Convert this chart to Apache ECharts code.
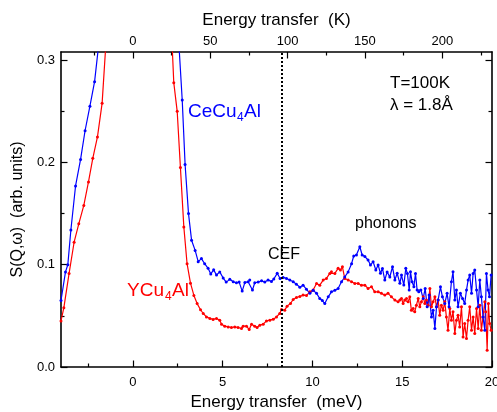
<!DOCTYPE html>
<html lang="en">
<head>
<meta charset="UTF-8">
<title>CeCu4Al / YCu4Al S(Q,w)</title>
<script src="https://cdn.jsdelivr.net/npm/echarts@6/dist/echarts.min.js"></script>
<style>
    body { margin: 0; padding: 0; background: #fff; }
    #chart { width: 497px; height: 412px; }
</style>
</head>
<body>
<div id="chart"></div>
<script>
    // CeCu4Al (blue) - energy transfer (meV) and S(Q,w)
    const ceE = [-4.0, -3.75, -3.62, -3.45, -3.19, -2.91, -2.66, -2.39, -2.13, -1.87, 0.0, 2.55,
        2.75, 2.91, 3.10, 3.27, 3.47, 3.64, 3.82, 4.0, 4.19, 4.34, 4.5, 4.66, 4.84, 5.03, 5.2,
        5.4, 5.59, 5.77, 5.92, 6.09, 6.24, 6.42, 6.51, 6.66, 6.79, 6.98, 7.17, 7.35, 7.53, 7.72,
        7.85, 8.04, 8.2, 8.37, 8.56, 8.74, 8.93, 9.11, 9.30, 9.48, 9.67, 9.86, 10.04, 10.23,
        10.41, 10.55, 10.69, 10.88, 11.06, 11.25, 11.43, 11.62, 11.8, 11.99, 12.18, 12.3, 12.45,
        12.64, 12.77, 12.92, 13.1, 13.23, 13.38, 13.53, 13.66, 13.79, 13.9, 14.03, 14.16, 14.31,
        14.46, 14.59, 14.72,
        14.87, 14.96, 15.09, 15.2, 15.29, 15.39, 15.46, 15.55, 15.65, 15.74, 15.83, 15.92, 16.04,
        16.17, 16.28, 16.39, 16.5, 16.63, 16.72, 16.82, 16.91, 17.0, 17.13, 17.24, 17.37, 17.5,
        17.61, 17.74, 17.83, 17.93, 18.02, 18.11, 18.24, 18.36, 18.48, 18.58, 18.67, 18.76, 18.86,
        18.95, 19.04, 19.14, 19.23, 19.32, 19.41, 19.5, 19.6, 19.69, 19.78, 19.86, 19.95];
    const ceS = [0.065, 0.093, 0.100, 0.134, 0.177, 0.203, 0.231, 0.255, 0.279, 0.32, 2.5, 0.32,
        0.261, 0.198, 0.150, 0.124, 0.114, 0.103, 0.106, 0.101, 0.0965, 0.091, 0.095, 0.090, 0.093, 0.087, 0.083,
        0.0857, 0.0833, 0.0824, 0.083, 0.0742, 0.0827, 0.0833, 0.085, 0.0752, 0.0824, 0.083, 0.0843, 0.083, 0.085, 0.0837,
        0.086, 0.0916, 0.0866, 0.0876, 0.0866, 0.085, 0.0833, 0.081, 0.078, 0.080, 0.076, 0.072, 0.075, 0.072,
        0.067, 0.065, 0.062, 0.0686, 0.0735, 0.075, 0.0768, 0.0833, 0.088, 0.093, 0.101, 0.1085, 0.1095,
        0.1176, 0.1095, 0.108, 0.1046, 0.0997, 0.103, 0.0948, 0.0997, 0.0916, 0.0964, 0.085, 0.093, 0.088,
        0.098, 0.085, 0.0916,
        0.0818, 0.0899, 0.0801, 0.0965, 0.0915, 0.0752, 0.0931, 0.0833, 0.0784, 0.0915, 0.0752, 0.0735, 0.0752,
        0.067, 0.0768, 0.0588, 0.0703, 0.049, 0.0556, 0.0376, 0.0588, 0.0654, 0.0784, 0.0686, 0.0621, 0.072,
        0.0588, 0.0833, 0.0931, 0.0654, 0.0752, 0.0588, 0.072, 0.067, 0.0621, 0.0752, 0.085, 0.0899, 0.072,
        0.0915, 0.0948, 0.0752, 0.0588, 0.085, 0.0686, 0.049, 0.036, 0.0915, 0.0752, 0.0686, 0.0899];

    // YCu4Al (red)
    const yE = [-4.0, -3.84, -3.55, -3.27, -3.01, -2.73, -2.47, -2.23, -1.97, -1.71, -1.45, 0.0, 2.15,
        2.28, 2.47, 2.65, 2.84, 3.02, 3.21, 3.40, 3.58, 3.77, 3.92, 4.10, 4.29, 4.47, 4.66, 4.84,
        4.94, 5.12, 5.31, 5.49, 5.68, 5.86, 6.05, 6.14, 6.33, 6.48, 6.61, 6.79, 6.92, 7.07, 7.26,
        7.44, 7.63, 7.82, 8.0, 8.18, 8.28, 8.46, 8.59, 8.78, 8.93, 9.11, 9.30, 9.48, 9.67, 9.86,
        10.04, 10.23, 10.41, 10.6, 10.78, 10.97, 11.06, 11.25, 11.43, 11.56, 11.67, 11.8, 11.99,
        12.18, 12.36, 12.55, 12.73, 12.92, 13.1, 13.29, 13.47, 13.66, 13.84, 14.03, 14.21, 14.4,
        14.59, 14.77,
        14.87, 14.96, 15.05, 15.14, 15.24, 15.33, 15.42, 15.51, 15.61, 15.7, 15.79, 15.89, 15.98,
        16.07, 16.17, 16.26, 16.35, 16.44, 16.54, 16.63, 16.72, 16.82, 16.91, 17.0, 17.09, 17.18,
        17.28, 17.37, 17.46, 17.55, 17.65, 17.74, 17.83, 17.93, 18.02, 18.11, 18.2, 18.3, 18.39,
        18.48, 18.58, 18.67, 18.76, 18.86, 18.95, 19.04, 19.14, 19.23, 19.32, 19.41, 19.5, 19.6,
        19.65, 19.73, 19.8, 19.87, 19.95];
    const yS = [0.045, 0.058, 0.0915, 0.122, 0.140, 0.158, 0.181, 0.204, 0.225, 0.258, 0.33, 2.5, 0.33,
        0.278, 0.25, 0.195, 0.137, 0.101, 0.082, 0.070, 0.062, 0.056, 0.0523, 0.049, 0.0475, 0.0465, 0.0475, 0.0458,
        0.0419, 0.0399, 0.0392, 0.0386, 0.0392, 0.0386, 0.0376, 0.0399, 0.0399, 0.0366, 0.0419, 0.0399, 0.0386, 0.0409, 0.0419,
        0.0451, 0.0458, 0.0468, 0.049, 0.0523, 0.0562, 0.0556, 0.0595, 0.0621, 0.0661, 0.068, 0.069, 0.0703, 0.070, 0.0735,
        0.0752, 0.0817, 0.080, 0.085, 0.0866, 0.0915, 0.0931, 0.0915, 0.0965, 0.0948, 0.098, 0.0866, 0.085,
        0.0833, 0.0817, 0.0817, 0.080, 0.080, 0.0768, 0.0784, 0.0735, 0.0735, 0.072, 0.0703, 0.072, 0.0686,
        0.0654, 0.0637,
        0.0654, 0.067, 0.0621, 0.0654, 0.067, 0.0637, 0.0686, 0.0556, 0.0572, 0.054, 0.0605, 0.067, 0.0588,
        0.0637, 0.0686, 0.0621, 0.0654, 0.0605, 0.0768, 0.0588, 0.0637, 0.0686, 0.0588, 0.0654, 0.0507, 0.0605,
        0.0556, 0.0637, 0.049, 0.036, 0.0572, 0.0458, 0.054, 0.0327, 0.0458, 0.0507, 0.0392, 0.0588, 0.0294,
        0.0425, 0.0278, 0.0458, 0.0588, 0.036, 0.049, 0.0327, 0.0572, 0.0376, 0.0605, 0.036, 0.049, 0.0637,
        0.054, 0.0164, 0.0621, 0.0425, 0.036];

    // tick positions
    const meVMajor = [0, 5, 10, 15, 20];
    const meVMinor = [-2.5, 2.5, 7.5, 12.5, 17.5];
    const kMajor = [0, 50, 100, 150, 200];
    const kMinor = [-25, 25, 75, 125, 175, 225];
    const yMajor = [0, 0.1, 0.2, 0.3];
    const yMinor = [0.05, 0.15, 0.25];
    const cefLine = 8.3;   // meV
    const meVtoK = 11.605;

    const eMin = -4, eMax = 20, sMin = 0, sMax = 0.308;

    const chart = echarts.init(document.getElementById('chart'));
    const font = 'Liberation Sans, Arial, sans-serif';
    const black = '#000';

    function tickAxis(pos, min, max, majors, minors, isMinor, extra) {
        return Object.assign({
            type: 'value',
            position: pos,
            min: min,
            max: max,
            splitLine: { show: false },
            axisLine: { show: !isMinor, onZero: false, lineStyle: { color: black, width: 1.6 } },
            axisTick: {
                show: true, inside: true, length: isMinor ? 3.5 : 6.5,
                customValues: isMinor ? minors : majors,
                lineStyle: { color: black, width: 1.2 }
            },
            axisLabel: { show: false }
        }, extra || {});
    }

    const option = {
        animation: false,
        grid: { left: 61, right: 5, top: 52, bottom: 45, containLabel: false, outerBoundsMode: 'none' },
        xAxis: [
            tickAxis('bottom', eMin, eMax, meVMajor, null, false, {
                name: 'Energy transfer  (meV)',
                nameLocation: 'middle',
                nameGap: 24,
                nameTextStyle: { fontFamily: font, fontSize: 17, color: black },
                axisLabel: {
                    show: true, customValues: meVMajor, margin: 9,
                    fontFamily: font, fontSize: 13, color: black
                }
            }),
            tickAxis('bottom', eMin, eMax, null, meVMinor, true),
            tickAxis('top', eMin * meVtoK, eMax * meVtoK, kMajor, null, false, {
                name: 'Energy transfer  (K)',
                nameLocation: 'middle',
                nameGap: 23,
                nameTextStyle: { fontFamily: font, fontSize: 17, color: black },
                axisLabel: {
                    show: true, customValues: kMajor, margin: 4,
                    fontFamily: font, fontSize: 13, color: black
                }
            }),
            tickAxis('top', eMin * meVtoK, eMax * meVtoK, null, kMinor, true)
        ],
        yAxis: [
            tickAxis('left', sMin, sMax, yMajor, null, false, {
                name: 'S(Q,\u03c9)  (arb. units)',
                nameLocation: 'middle',
                nameGap: 24,
                nameTextStyle: { fontFamily: font, fontSize: 16, color: black },
                axisLabel: {
                    show: true, customValues: yMajor, margin: 6,
                    fontFamily: font, fontSize: 13, color: black,
                    formatter: v => v.toFixed(1)
                }
            }),
            tickAxis('left', sMin, sMax, null, yMinor, true),
            tickAxis('right', sMin, sMax, yMajor, null, false),
            tickAxis('right', sMin, sMax, null, yMinor, true)
        ],
        series: [
            {
                name: 'YCu4Al',
                type: 'line',
                data: yE.map((e, i) => [e, yS[i]]),
                symbol: 'circle',
                symbolSize: 3,
                showAllSymbol: true,
                clip: true,
                itemStyle: { color: '#ff0000' },
                lineStyle: { color: '#ff0000', width: 1.2 }
            },
            {
                name: 'CeCu4Al',
                type: 'line',
                data: ceE.map((e, i) => [e, ceS[i]]),
                symbol: 'circle',
                symbolSize: 3,
                showAllSymbol: true,
                clip: true,
                itemStyle: { color: '#0000ff' },
                lineStyle: { color: '#0000ff', width: 1.2 },
                markLine: {
                    silent: true,
                    symbol: ['none', 'none'],
                    label: { show: false },
                    lineStyle: { color: black, type: [2, 2], width: 2 },
                    data: [{ xAxis: cefLine }]
                }
            }
        ],
        graphic: [
            { type: 'text', x: 188, y: 102, style: { text: 'CeCu', font: '19px ' + font, fill: '#0000ff' } },
            { type: 'text', x: 237, y: 112, style: { text: '4', font: '12px ' + font, fill: '#0000ff' } },
            { type: 'text', x: 244, y: 102, style: { text: 'Al', font: '19px ' + font, fill: '#0000ff' } },
            { type: 'text', x: 127, y: 281, style: { text: 'YCu', font: '19px ' + font, fill: '#ff0000' } },
            { type: 'text', x: 165, y: 291, style: { text: '4', font: '12px ' + font, fill: '#ff0000' } },
            { type: 'text', x: 172, y: 281, style: { text: 'Al', font: '19px ' + font, fill: '#ff0000' } },
            { type: 'text', x: 268, y: 247, style: { text: 'CEF', font: '16px ' + font, fill: black } },
            { type: 'text', x: 355, y: 216, style: { text: 'phonons', font: '16px ' + font, fill: black } },
            { type: 'text', x: 390, y: 75, style: { text: 'T=100K', font: '17px ' + font, fill: black } },
            { type: 'text', x: 390, y: 97, style: { text: '\u03bb = 1.8\u00c5', font: '17px ' + font, fill: black } }
        ]
    };

    chart.setOption(option);
</script>
</body>
</html>
